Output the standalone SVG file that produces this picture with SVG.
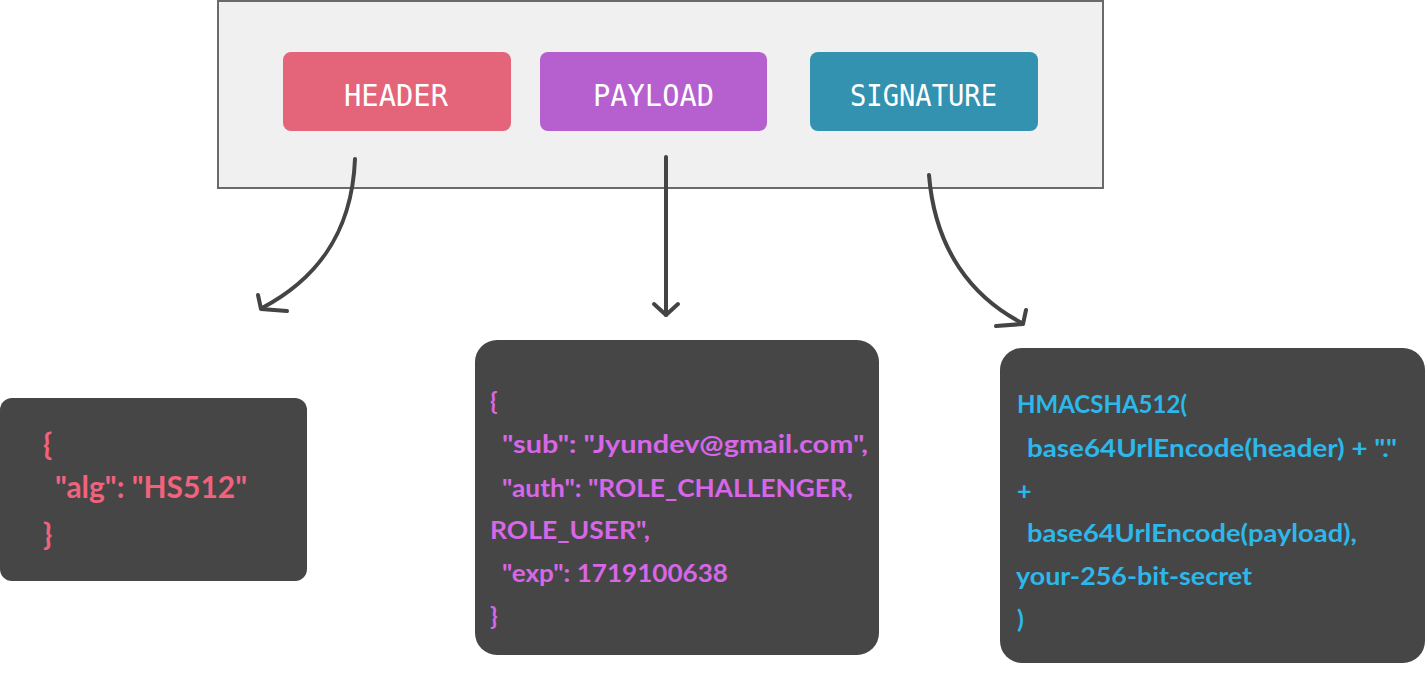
<svg xmlns="http://www.w3.org/2000/svg" width="1427" height="690" viewBox="0 0 1427 690">
<defs>
<style>
.btn-t{font-family:"DejaVu Sans Mono",monospace;font-size:30px;fill:#ffffff;}
.code{font-family:Lato,"Open Sans",sans-serif;font-weight:bold;font-size:25px;}
.big{font-size:30px;}
.c1{fill:#f2627c;}
.c2{fill:#d766e8;}
.c3{fill:#2cb8ea;}
.box{fill:#464646;}
.conn{fill:none;stroke:#444444;stroke-width:4;stroke-linecap:round;stroke-linejoin:round;}
</style>
</defs>
<rect width="1427" height="690" fill="#ffffff"/>
<g id="jwt">
<rect x="218" y="1" width="885" height="187" fill="#f0f0f0" stroke="#6a6a6a" stroke-width="2"/>
</g>
<g id="header">
<rect x="283" y="52" width="228" height="79" rx="8" fill="#e4657a"/>
<text class="btn-t" x="344" y="106" textLength="104" lengthAdjust="spacingAndGlyphs">HEADER</text>
</g>
<g id="payload">
<rect x="540" y="52" width="227" height="79" rx="8" fill="#b65fcf"/>
<text class="btn-t" x="593" y="106" textLength="121" lengthAdjust="spacingAndGlyphs">PAYLOAD</text>
</g>
<g id="signature">
<rect x="810" y="52" width="228" height="79" rx="8" fill="#3392b0"/>
<text class="btn-t" x="850" y="106" textLength="147" lengthAdjust="spacingAndGlyphs">SIGNATURE</text>
</g>
<g id="connectors">
<path class="conn" d="M355,159 C352,235 315,280 262,308"/>
<path class="conn" d="M258,295 L261,309 L287,311"/>
<path class="conn" d="M666,157 L666,315"/>
<path class="conn" d="M654,304 L666,315 L678,304"/>
<path class="conn" d="M929,175 C935,250 972,297 1022,323"/>
<path class="conn" d="M1026,310 L1023,324 L996,326"/>
</g>
<g id="header-json">
<rect class="box" x="0" y="398" width="307" height="183" rx="12"/>
<text class="code big c1" x="43" y="455">{</text>
<text class="code big c1" x="55" y="498" textLength="192" lengthAdjust="spacingAndGlyphs">"alg": "HS512"</text>
<text class="code big c1" x="43" y="545">}</text>
</g>
<g id="payload-json">
<rect class="box" x="475" y="340" width="404" height="315" rx="22"/>
<text class="code c2" x="490" y="410">{</text>
<text class="code c2" x="502" y="453" textLength="366" lengthAdjust="spacingAndGlyphs">"sub": "Jyundev@gmail.com",</text>
<text class="code c2" x="502" y="497" textLength="351" lengthAdjust="spacingAndGlyphs">"auth": "ROLE_CHALLENGER,</text>
<text class="code c2" x="490" y="539" textLength="160" lengthAdjust="spacingAndGlyphs">ROLE_USER",</text>
<text class="code c2" x="502" y="582" textLength="226" lengthAdjust="spacingAndGlyphs">"exp": 1719100638</text>
<text class="code c2" x="490" y="625">}</text>
</g>
<g id="signature-code">
<rect class="box" x="1000" y="348" width="425" height="315" rx="22"/>
<text class="code c3" x="1017" y="413" textLength="170" lengthAdjust="spacingAndGlyphs">HMACSHA512(</text>
<text class="code c3" x="1027" y="457" textLength="370" lengthAdjust="spacingAndGlyphs">base64UrlEncode(header) + "."</text>
<text class="code c3" x="1017" y="500">+</text>
<text class="code c3" x="1027" y="542" textLength="330" lengthAdjust="spacingAndGlyphs">base64UrlEncode(payload),</text>
<text class="code c3" x="1016" y="585" textLength="236" lengthAdjust="spacingAndGlyphs">your-256-bit-secret</text>
<text class="code c3" x="1017" y="628">)</text>
</g>
</svg>
